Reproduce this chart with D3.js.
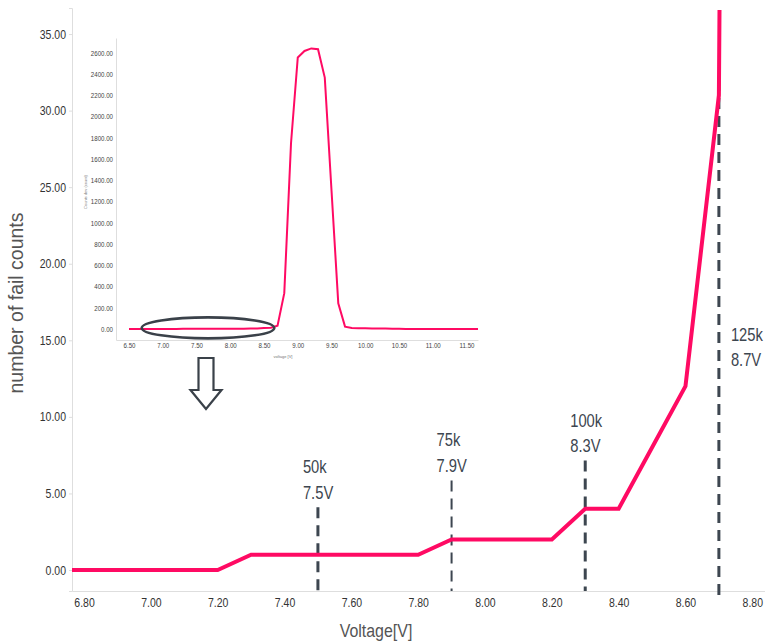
<!DOCTYPE html>
<html>
<head>
<meta charset="utf-8">
<script src="https://cdn.jsdelivr.net/npm/d3@7"></script>
<style>
  html, body { margin: 0; padding: 0; background: #fff; }
  svg { display: block; }
  .narrow { font-family: 'Liberation Sans', Arial, sans-serif; }
</style>
</head>
<body>
<svg id="chart" width="765" height="642"></svg>
<script>
// ---------- Main chart data ----------
const mainVoltage = [6.7, 6.8, 6.9, 7.0, 7.1, 7.2, 7.3, 7.4, 7.5, 7.6, 7.7, 7.8, 7.9, 8.0, 8.1, 8.2, 8.3, 8.4, 8.5, 8.6, 8.7, 8.8];
const mainFailCounts = [0, 0, 0, 0, 0, 0, 1, 1, 1, 1, 1, 1, 2, 2, 2, 2, 4, 4, 8, 12, 31, 337];
const mainXTicks = [6.8, 7.0, 7.2, 7.4, 7.6, 7.8, 8.0, 8.2, 8.4, 8.6, 8.8];
const mainYTicks = [0, 5, 10, 15, 20, 25, 30, 35];

// Annotations (dashed markers)
const markerVoltage = [7.5, 7.9, 8.3, 8.7];
const markerCount = ["50k", "75k", "100k", "125k"];
const markerLabel = ["7.5V", "7.9V", "8.3V", "8.7V"];
const markerTop = [4.1, 5.85, 7.15, 32.0];
const markerBottom = [-1.37, -1.37, -1.37, -1.95];

// ---------- Inset chart data ----------
const insetVoltage = [6.5, 6.6, 6.7, 6.8, 6.9, 7.0, 7.1, 7.2, 7.3, 7.4, 7.5, 7.6, 7.7, 7.8, 7.9, 8.0, 8.1, 8.2, 8.3, 8.4, 8.5, 8.6,
  8.7, 8.8, 8.9, 9.0, 9.1, 9.2, 9.3, 9.4, 9.5, 9.6, 9.7, 9.8, 9.9, 10.0, 10.1, 10.2, 10.3, 10.4, 10.5,
  10.6, 10.7, 10.8, 10.9, 11.0, 11.1, 11.2, 11.3, 11.4, 11.5, 11.6, 11.7];
const insetCounts = [0, 0, 0, 0, 0, 0, 0, 0, 1, 1, 1, 1, 1, 1, 2, 2, 2, 2, 4, 4, 8, 12,
  31, 337, 1750, 2555, 2616, 2640, 2632, 2365, 1300, 242, 22, 9, 7, 6, 5, 5, 4, 2, 1,
  0, 0, 0, 0, 0, 0, 0, 0, 0, 0, 0, 0];
const insetXTicks = [6.5, 7.0, 7.5, 8.0, 8.5, 9.0, 9.5, 10.0, 10.5, 11.0, 11.5];
const insetYTicks = [0, 200, 400, 600, 800, 1000, 1200, 1400, 1600, 1800, 2000, 2200, 2400, 2600];
const insetHighlight = { v: 7.67, c: 10, rv: 0.982, rc: 99 };

const LINE = '#ff0a63';
const DARK = '#3d4650';
const AXIS = '#dedede';

const svg = d3.select('#chart');
const fmt = d3.format('.2f');

// condense text horizontally (narrow face look) keeping its anchor point fixed
function condense(sel, f) {
  sel.each(function () {
    const xa = +(this.getAttribute('x') || 0);
    this.setAttribute('transform', `translate(${(xa * (1 - f)).toFixed(2)},0) scale(${f},1)`);
  });
}

// ---------- Main chart ----------
const x = d3.scaleLinear().domain([6.764, 8.838]).range([72, 765]);
const y = d3.scaleLinear().domain([-1.37, 36.7]).range([591, 8]);

svg.append('defs').append('clipPath').attr('id', 'mainClip')
  .append('rect').attr('x', x.range()[0]).attr('y', 10)
  .attr('width', x.range()[1] - x.range()[0]).attr('height', y.range()[0] - 10);

const xAxis = svg.append('g').attr('transform', `translate(0,${y.range()[0]})`)
  .call(d3.axisBottom(x).tickValues(mainXTicks).tickFormat(fmt).tickSize(0).tickPadding(7));
xAxis.select('.domain').attr('stroke', AXIS);
xAxis.selectAll('text').attr('class', 'narrow').attr('font-size', 12.5).attr('fill', '#333').call(condense, 0.84);

const yAxis = svg.append('g').attr('transform', `translate(${x.range()[0]},0)`)
  .call(d3.axisLeft(y).tickValues(mainYTicks).tickFormat(fmt).tickSize(3).tickPadding(3));
yAxis.select('.domain').attr('stroke', AXIS);
yAxis.selectAll('.tick line').attr('stroke', AXIS);
yAxis.selectAll('text').attr('class', 'narrow').attr('font-size', 12.5).attr('fill', '#333').call(condense, 0.84);

svg.append('text')
  .attr('transform', `translate(23,303) rotate(-90)`)
  .attr('text-anchor', 'middle')
  .attr('font-family', "'Liberation Sans', Arial, sans-serif")
  .attr('font-size', 19.5).attr('fill', '#555')
  .text('number of fail counts');

svg.append('text').attr('class', 'narrow')
  .attr('x', 376).attr('y', 637)
  .attr('text-anchor', 'middle')
  .attr('font-size', 19).attr('fill', '#555')
  .text('Voltage[V]')
  .call(condense, 0.84);

// dashed marker lines
const markers = markerVoltage.map((v, i) => ({ v, count: markerCount[i], label: markerLabel[i], top: markerTop[i], bottom: markerBottom[i], i }));
svg.append('g').selectAll('line').data(markers).join('line')
  .attr('x1', d => x(d.v)).attr('x2', d => x(d.v))
  .attr('y1', d => y(d.top)).attr('y2', d => y(d.bottom))
  .attr('stroke', DARK)
  .attr('stroke-width', d => d.i === 1 ? 2 : 3)
  .attr('stroke-dasharray', '11,7');

// main line
const line = d3.line().x((d, i) => x(mainVoltage[i])).y(d => y(d));
svg.append('path').datum(mainFailCounts)
  .attr('clip-path', 'url(#mainClip)')
  .attr('d', line)
  .attr('fill', 'none').attr('stroke', LINE).attr('stroke-width', 4)
  .attr('stroke-linejoin', 'miter');

// marker labels
const lab = svg.append('g').attr('class', 'narrow').attr('font-size', 18).attr('fill', DARK);
markers.forEach(d => {
  const last = d.i === 3;
  const tx = last ? x(d.v) + 12 : x(d.v) - 15;
  const baseY = last ? 341 : y(d.top) - 34;
  lab.append('text').attr('x', tx).attr('y', baseY).text(d.count).call(condense, 0.82);
  lab.append('text').attr('x', tx).attr('y', baseY + 25.5).text(d.label).call(condense, 0.82);
});

// ---------- Inset chart ----------
const ix = d3.scaleLinear().domain([6.307, 11.67]).range([116, 478]);
const iy = d3.scaleLinear().domain([-104, 2738]).range([340, 38]);

svg.select('defs').append('clipPath').attr('id', 'insetClip')
  .append('rect').attr('x', ix.range()[0]).attr('y', iy.range()[1])
  .attr('width', ix.range()[1] - ix.range()[0]).attr('height', iy.range()[0] - iy.range()[1]);

const ixAxis = svg.append('g').attr('transform', `translate(0,${iy.range()[0]})`)
  .call(d3.axisBottom(ix).tickValues(insetXTicks).tickFormat(fmt).tickSize(0).tickPadding(3));
ixAxis.select('.domain').attr('stroke', AXIS);
ixAxis.selectAll('text').attr('class', 'narrow').attr('font-size', 7.5).attr('fill', '#444').call(condense, 0.82);

const iyAxis = svg.append('g').attr('transform', `translate(${ix.range()[0]},0)`)
  .call(d3.axisLeft(iy).tickValues(insetYTicks).tickFormat(fmt).tickSize(0).tickPadding(3));
iyAxis.select('.domain').attr('stroke', AXIS);
iyAxis.selectAll('text').attr('class', 'narrow').attr('font-size', 7.5).attr('fill', '#444').call(condense, 0.82);

svg.append('text').attr('class', 'narrow')
  .attr('transform', 'translate(87,192) rotate(-90)')
  .attr('text-anchor', 'middle').attr('font-size', 4).attr('fill', '#777')
  .text('Counts dev (count)');
svg.append('text').attr('class', 'narrow')
  .attr('x', 283).attr('y', 358)
  .attr('text-anchor', 'middle').attr('font-size', 4).attr('fill', '#777')
  .text('voltage [V]');

const iline = d3.line().x((d, i) => ix(insetVoltage[i])).y(d => iy(d));
svg.append('path').datum(insetCounts)
  .attr('clip-path', 'url(#insetClip)')
  .attr('d', iline)
  .attr('fill', 'none').attr('stroke', LINE).attr('stroke-width', 2);

// highlight ellipse
const ecx = ix(insetHighlight.v), ecy = iy(insetHighlight.c);
const erx = ix(insetHighlight.v + insetHighlight.rv) - ecx;
const ery = iy(0) - iy(insetHighlight.rc);
svg.append('ellipse')
  .attr('cx', ecx).attr('cy', ecy).attr('rx', erx).attr('ry', ery)
  .attr('fill', 'none').attr('stroke', '#3a4149').attr('stroke-width', 2.6);

// hollow down arrow
const ax = ecx - 2;
const arrow = d3.path();
arrow.moveTo(ax - 7.5, 358);
arrow.lineTo(ax + 7.5, 358);
arrow.lineTo(ax + 7.5, 390);
arrow.lineTo(ax + 15.5, 390);
arrow.lineTo(ax, 409);
arrow.lineTo(ax - 15.5, 390);
arrow.lineTo(ax - 7.5, 390);
arrow.closePath();
svg.append('path').attr('d', arrow.toString())
  .attr('fill', '#fff').attr('stroke', '#3a4149').attr('stroke-width', 2.2)
  .attr('stroke-linejoin', 'miter');
</script>
</body>
</html>
